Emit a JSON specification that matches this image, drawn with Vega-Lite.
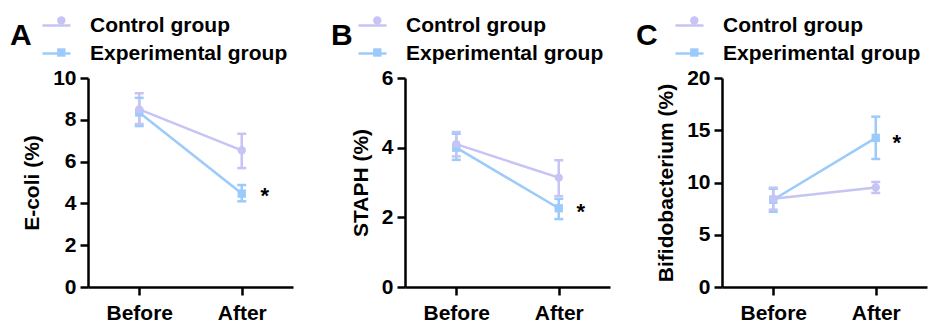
{
  "$schema": "https://vega.github.io/schema/vega-lite/v6.json",
  "background": "white",
  "padding": {"left": 10, "top": 10, "right": 2, "bottom": 0},
  "bounds": "flush",
  "spacing": 112,
  "config": {
    "view": {"stroke": null},
    "font": "Liberation Sans",
    "axis": {"domainColor": "black", "domainWidth": 2.5, "tickColor": "black", "tickWidth": 2.5, "tickSize": 8, "labelFont": "Liberation Sans", "labelFontSize": 21, "labelFontWeight": "bold", "labelColor": "black", "titleFont": "Liberation Sans", "titleFontSize": 21, "titleFontWeight": "bold", "titleColor": "black", "grid": false},
    "axisX": {"labelAngle": 0, "labelPadding": 7, "title": null},
    "axisY": {"labelPadding": 4, "titlePadding": 10},
    "title": {"font": "Liberation Sans", "fontSize": 30, "fontWeight": "bold", "color": "black", "anchor": "start", "frame": "group"},
    "legend": {"labelFont": "Liberation Sans", "labelFontSize": 21, "labelFontWeight": "bold", "labelColor": "black", "labelLimit": 0, "padding": 0, "orient": "none"}
  },
  "resolve": {"scale": {"color": "independent", "fill": "independent", "shape": "independent"}, "legend": {"color": "independent", "fill": "independent", "shape": "independent"}},
  "hconcat": [
    {
      "title": {"text": "A", "dx": -78, "dy": 41, "offset": 0},
      "width": 205, "height": 209,
      "data": {"values": [
        {"group": "Experimental group", "time": "Before", "mean": 8.35, "lo": 7.7, "hi": 9.05, "sig": ""},
        {"group": "Experimental group", "time": "After", "mean": 4.47, "lo": 4.1, "hi": 4.88, "sig": "*"},
        {"group": "Control group", "time": "Before", "mean": 8.5, "lo": 7.8, "hi": 9.27, "sig": ""},
        {"group": "Control group", "time": "After", "mean": 6.54, "lo": 5.69, "hi": 7.33, "sig": ""}
      ]},
      "transform": [{"calculate": "datum.group", "as": "grp"}],
      "encoding": {"x": {"field": "time", "type": "nominal", "scale": {"type": "point", "domain": ["Before", "After"], "padding": 0.5}}},
      "layer": [
        {"mark": {"type": "rule", "strokeWidth": 2.5}, "encoding": {
          "y": {"field": "lo", "type": "quantitative", "title": "E-coli (%)", "scale": {"domain": [0, 10], "nice": false}, "axis": {"values": [0, 2, 4, 6, 8, 10]}},
          "y2": {"field": "hi"},
          "color": {"field": "group", "type": "nominal", "scale": {"range": ["#c6c3f5", "#9ccbfb"]}}}},
        {"mark": {"type": "tick", "thickness": 2.5, "size": 9, "opacity": 1}, "encoding": {
          "y": {"field": "lo", "type": "quantitative", "title": "E-coli (%)", "scale": {"domain": [0, 10], "nice": false}},
          "color": {"field": "group", "type": "nominal", "scale": {"range": ["#c6c3f5", "#9ccbfb"]}}}},
        {"mark": {"type": "tick", "thickness": 2.5, "size": 9, "opacity": 1}, "encoding": {
          "y": {"field": "hi", "type": "quantitative", "title": "E-coli (%)", "scale": {"domain": [0, 10], "nice": false}},
          "color": {"field": "group", "type": "nominal", "scale": {"range": ["#c6c3f5", "#9ccbfb"]}}}},
        {"mark": {"type": "line", "strokeWidth": 2.5}, "encoding": {
          "y": {"field": "mean", "type": "quantitative", "title": "E-coli (%)", "scale": {"domain": [0, 10], "nice": false}},
          "color": {"field": "group", "type": "nominal", "scale": {"range": ["#c6c3f5", "#9ccbfb"]},
            "legend": {"title": null, "legendX": -47, "legendY": -68, "symbolType": "stroke", "symbolSize": 784, "symbolStrokeWidth": 2.5, "labelOffset": 18, "rowPadding": 2}}}},
        {"mark": {"type": "point", "filled": true, "opacity": 1, "size": 70, "strokeWidth": 0}, "encoding": {
          "y": {"field": "mean", "type": "quantitative", "title": "E-coli (%)", "scale": {"domain": [0, 10], "nice": false}},
          "fill": {"field": "grp", "type": "nominal", "scale": {"range": ["#c6c3f5", "#9ccbfb"]},
            "legend": {"title": null, "legendX": -47, "legendY": -68, "symbolSize": 70, "symbolStrokeWidth": 0, "symbolOffset": 9.8, "labelExpr": "' '", "labelOpacity": 0, "labelOffset": 18, "rowPadding": 10}},
          "shape": {"field": "grp", "type": "nominal", "scale": {"range": ["circle", "square"]},
            "legend": {"title": null, "legendX": -47, "legendY": -68, "symbolSize": 70, "symbolStrokeWidth": 0, "symbolOffset": 9.8, "labelExpr": "' '", "labelOpacity": 0, "labelOffset": 18, "rowPadding": 10}}}},
        {"mark": {"type": "text", "fontSize": 22, "fontWeight": "bold", "color": "black", "dx": 23, "dy": 9.5, "baseline": "alphabetic"}, "encoding": {
          "y": {"field": "mean", "type": "quantitative", "title": "E-coli (%)", "scale": {"domain": [0, 10], "nice": false}},
          "text": {"field": "sig"}}}
      ]
    },
    {
      "title": {"text": "B", "dx": -74, "dy": 41, "offset": 0},
      "width": 205, "height": 209,
      "data": {"values": [
        {"group": "Experimental group", "time": "Before", "mean": 4.0, "lo": 3.65, "hi": 4.4, "sig": ""},
        {"group": "Experimental group", "time": "After", "mean": 2.26, "lo": 1.95, "hi": 2.53, "sig": "*"},
        {"group": "Control group", "time": "Before", "mean": 4.1, "lo": 3.75, "hi": 4.45, "sig": ""},
        {"group": "Control group", "time": "After", "mean": 3.14, "lo": 2.61, "hi": 3.64, "sig": ""}
      ]},
      "transform": [{"calculate": "datum.group", "as": "grp"}],
      "encoding": {"x": {"field": "time", "type": "nominal", "scale": {"type": "point", "domain": ["Before", "After"], "padding": 0.5}}},
      "layer": [
        {"mark": {"type": "rule", "strokeWidth": 2.5}, "encoding": {
          "y": {"field": "lo", "type": "quantitative", "title": "STAPH (%)", "scale": {"domain": [0, 6], "nice": false}, "axis": {"values": [0, 2, 4, 6]}},
          "y2": {"field": "hi"},
          "color": {"field": "group", "type": "nominal", "scale": {"range": ["#c6c3f5", "#9ccbfb"]}}}},
        {"mark": {"type": "tick", "thickness": 2.5, "size": 9, "opacity": 1}, "encoding": {
          "y": {"field": "lo", "type": "quantitative", "title": "STAPH (%)", "scale": {"domain": [0, 6], "nice": false}},
          "color": {"field": "group", "type": "nominal", "scale": {"range": ["#c6c3f5", "#9ccbfb"]}}}},
        {"mark": {"type": "tick", "thickness": 2.5, "size": 9, "opacity": 1}, "encoding": {
          "y": {"field": "hi", "type": "quantitative", "title": "STAPH (%)", "scale": {"domain": [0, 6], "nice": false}},
          "color": {"field": "group", "type": "nominal", "scale": {"range": ["#c6c3f5", "#9ccbfb"]}}}},
        {"mark": {"type": "line", "strokeWidth": 2.5}, "encoding": {
          "y": {"field": "mean", "type": "quantitative", "title": "STAPH (%)", "scale": {"domain": [0, 6], "nice": false}},
          "color": {"field": "group", "type": "nominal", "scale": {"range": ["#c6c3f5", "#9ccbfb"]},
            "legend": {"title": null, "legendX": -48, "legendY": -68, "symbolType": "stroke", "symbolSize": 784, "symbolStrokeWidth": 2.5, "labelOffset": 18, "rowPadding": 2}}}},
        {"mark": {"type": "point", "filled": true, "opacity": 1, "size": 70, "strokeWidth": 0}, "encoding": {
          "y": {"field": "mean", "type": "quantitative", "title": "STAPH (%)", "scale": {"domain": [0, 6], "nice": false}},
          "fill": {"field": "grp", "type": "nominal", "scale": {"range": ["#c6c3f5", "#9ccbfb"]},
            "legend": {"title": null, "legendX": -48, "legendY": -68, "symbolSize": 70, "symbolStrokeWidth": 0, "symbolOffset": 9.8, "labelExpr": "' '", "labelOpacity": 0, "labelOffset": 18, "rowPadding": 10}},
          "shape": {"field": "grp", "type": "nominal", "scale": {"range": ["circle", "square"]},
            "legend": {"title": null, "legendX": -48, "legendY": -68, "symbolSize": 70, "symbolStrokeWidth": 0, "symbolOffset": 9.8, "labelExpr": "' '", "labelOpacity": 0, "labelOffset": 18, "rowPadding": 10}}}},
        {"mark": {"type": "text", "fontSize": 22, "fontWeight": "bold", "color": "black", "dx": 22, "dy": 10.5, "baseline": "alphabetic"}, "encoding": {
          "y": {"field": "mean", "type": "quantitative", "title": "STAPH (%)", "scale": {"domain": [0, 6], "nice": false}},
          "text": {"field": "sig"}}}
      ]
    },
    {
      "title": {"text": "C", "dx": -86, "dy": 41, "offset": 0},
      "width": 205, "height": 209,
      "data": {"values": [
        {"group": "Experimental group", "time": "Before", "mean": 8.35, "lo": 7.2, "hi": 9.4, "sig": ""},
        {"group": "Experimental group", "time": "After", "mean": 14.27, "lo": 12.25, "hi": 16.3, "sig": "*"},
        {"group": "Control group", "time": "Before", "mean": 8.45, "lo": 7.4, "hi": 9.5, "sig": ""},
        {"group": "Control group", "time": "After", "mean": 9.53, "lo": 9.0, "hi": 10.05, "sig": ""}
      ]},
      "transform": [{"calculate": "datum.group", "as": "grp"}],
      "encoding": {"x": {"field": "time", "type": "nominal", "scale": {"type": "point", "domain": ["Before", "After"], "padding": 0.5}}},
      "layer": [
        {"mark": {"type": "rule", "strokeWidth": 2.5}, "encoding": {
          "y": {"field": "lo", "type": "quantitative", "title": "Bifidobacterium (%)", "scale": {"domain": [0, 20], "nice": false}, "axis": {"values": [0, 5, 10, 15, 20]}},
          "y2": {"field": "hi"},
          "color": {"field": "group", "type": "nominal", "scale": {"range": ["#c6c3f5", "#9ccbfb"]}}}},
        {"mark": {"type": "tick", "thickness": 2.5, "size": 9, "opacity": 1}, "encoding": {
          "y": {"field": "lo", "type": "quantitative", "title": "Bifidobacterium (%)", "scale": {"domain": [0, 20], "nice": false}},
          "color": {"field": "group", "type": "nominal", "scale": {"range": ["#c6c3f5", "#9ccbfb"]}}}},
        {"mark": {"type": "tick", "thickness": 2.5, "size": 9, "opacity": 1}, "encoding": {
          "y": {"field": "hi", "type": "quantitative", "title": "Bifidobacterium (%)", "scale": {"domain": [0, 20], "nice": false}},
          "color": {"field": "group", "type": "nominal", "scale": {"range": ["#c6c3f5", "#9ccbfb"]}}}},
        {"mark": {"type": "line", "strokeWidth": 2.5}, "encoding": {
          "y": {"field": "mean", "type": "quantitative", "title": "Bifidobacterium (%)", "scale": {"domain": [0, 20], "nice": false}},
          "color": {"field": "group", "type": "nominal", "scale": {"range": ["#c6c3f5", "#9ccbfb"]},
            "legend": {"title": null, "legendX": -48, "legendY": -68, "symbolType": "stroke", "symbolSize": 784, "symbolStrokeWidth": 2.5, "labelOffset": 18, "rowPadding": 2}}}},
        {"mark": {"type": "point", "filled": true, "opacity": 1, "size": 70, "strokeWidth": 0}, "encoding": {
          "y": {"field": "mean", "type": "quantitative", "title": "Bifidobacterium (%)", "scale": {"domain": [0, 20], "nice": false}},
          "fill": {"field": "grp", "type": "nominal", "scale": {"range": ["#c6c3f5", "#9ccbfb"]},
            "legend": {"title": null, "legendX": -48, "legendY": -68, "symbolSize": 70, "symbolStrokeWidth": 0, "symbolOffset": 9.8, "labelExpr": "' '", "labelOpacity": 0, "labelOffset": 18, "rowPadding": 10}},
          "shape": {"field": "grp", "type": "nominal", "scale": {"range": ["circle", "square"]},
            "legend": {"title": null, "legendX": -48, "legendY": -68, "symbolSize": 70, "symbolStrokeWidth": 0, "symbolOffset": 9.8, "labelExpr": "' '", "labelOpacity": 0, "labelOffset": 18, "rowPadding": 10}}}},
        {"mark": {"type": "text", "fontSize": 22, "fontWeight": "bold", "color": "black", "dx": 21, "dy": 12.5, "baseline": "alphabetic"}, "encoding": {
          "y": {"field": "mean", "type": "quantitative", "title": "Bifidobacterium (%)", "scale": {"domain": [0, 20], "nice": false}},
          "text": {"field": "sig"}}}
      ]
    }
  ]
}
